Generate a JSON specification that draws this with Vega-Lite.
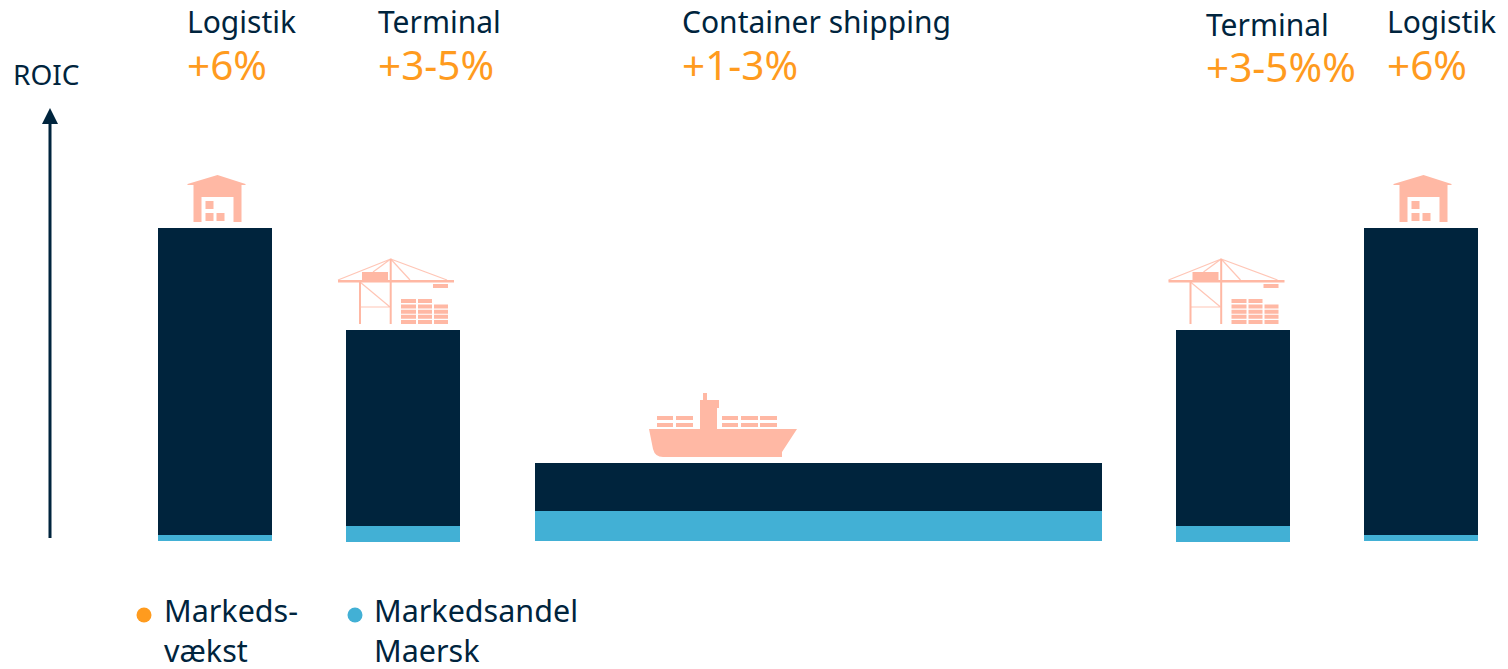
{"$schema":"https://vega.github.io/schema/vega-lite/v6.json","width":1508,"height":669,"padding":0,"autosize":{"type":"fit","contains":"padding"},"background":"white","config":{"view":{"stroke":null},"text":{"font":"Noto Sans"}},"datasets":{"bars":[{"segment":"Logistik","series":"Øvrige","x":158,"x2":272,"y":228,"y2":535},{"segment":"Logistik","series":"Maersk","x":158,"x2":272,"y":535,"y2":541},{"segment":"Terminal","series":"Øvrige","x":346,"x2":460,"y":330,"y2":526},{"segment":"Terminal","series":"Maersk","x":346,"x2":460,"y":526,"y2":542},{"segment":"Container shipping","series":"Øvrige","x":535,"x2":1102,"y":463,"y2":511},{"segment":"Container shipping","series":"Maersk","x":535,"x2":1102,"y":511,"y2":541},{"segment":"Terminal","series":"Øvrige","x":1176,"x2":1290,"y":330,"y2":526},{"segment":"Terminal","series":"Maersk","x":1176,"x2":1290,"y":526,"y2":542},{"segment":"Logistik","series":"Øvrige","x":1364,"x2":1478,"y":228,"y2":535},{"segment":"Logistik","series":"Maersk","x":1364,"x2":1478,"y":535,"y2":541}],"axisTitle":[{"t":"ROIC","x":13,"y":85}],"names":[{"t":"Logistik","x":187,"y":33},{"t":"Terminal","x":378,"y":33},{"t":"Container shipping","x":682,"y":33},{"t":"Terminal","x":1206,"y":36},{"t":"Logistik","x":1387,"y":33}],"legendText":[{"t":"Markeds-","x":164,"y":622},{"t":"vækst","x":164,"y":662},{"t":"Markedsandel","x":374,"y":622},{"t":"Maersk","x":374,"y":662}],"growth":[{"t":"+6%","x":187,"y":80},{"t":"+3-5%","x":378,"y":80},{"t":"+1-3%","x":682,"y":80},{"t":"+3-5%%","x":1206,"y":82},{"t":"+6%","x":1387,"y":80}],"dots":[{"series":"Markedsvækst","x":144,"y":615},{"series":"Maersk","x":355,"y":615}],"warehouse":[{"x":217.5,"y":198},{"x":1423.5,"y":198}],"crane":[{"x":396,"y":291},{"x":1226.5,"y":291}],"ship":[{"x":723,"y":425}],"axisLine":[{"x":50,"y":123,"y2":538}],"axisHead":[{"x":50,"y":116}]},"layer":[{"data":{"name":"bars"},"mark":{"type":"rect"},"encoding":{"x":{"field":"x","type":"quantitative","scale":{"domain":[0,1508],"nice":false,"zero":false},"axis":null},"x2":{"field":"x2"},"y":{"field":"y","type":"quantitative","scale":{"domain":[669,0],"nice":false,"zero":false},"axis":null},"y2":{"field":"y2"},"color":{"field":"series","type":"nominal","scale":{"domain":["Øvrige","Maersk","Markedsvækst"],"range":["#00243D","#42B0D5","#FF9B1E"]},"legend":null}}},{"data":{"name":"axisLine"},"mark":{"type":"rule","color":"#00243D","strokeWidth":3},"encoding":{"x":{"field":"x","type":"quantitative"},"y":{"field":"y","type":"quantitative"},"y2":{"field":"y2"}}},{"data":{"name":"axisHead"},"mark":{"type":"point","filled":true,"opacity":1,"color":"#00243D","size":4,"shape":"M-8,8 L0,-8 L8,8 Z"},"encoding":{"x":{"field":"x","type":"quantitative"},"y":{"field":"y","type":"quantitative"}}},{"data":{"name":"warehouse"},"mark":{"type":"point","filled":true,"opacity":1,"color":"#FFB8A4","size":4,"shape":"M-30,-14 L0,-23 L28,-14 L28,-13 L24,-13 L24,24 L16,24 L16,-1 L-16,-1 L-16,24 L-24,24 L-24,-13 L-30,-13 Z M-12,3 L-4,3 L-4,11 L-12,11 Z M-12,15 L-4,15 L-4,23 L-12,23 Z M-1,15 L7,15 L7,23 L-1,23 Z"},"encoding":{"x":{"field":"x","type":"quantitative"},"y":{"field":"y","type":"quantitative"}}},{"data":{"name":"crane"},"mark":{"type":"point","filled":true,"opacity":1,"color":"#FFB8A4","size":4,"shape":"M-58,-11 L58,-11 L58,-8.5 L-58,-8.5 Z M-34,-19 L-8,-19 L-8,-11 L-34,-11 Z M37,-7 L52,-7 L52,-3 L37,-3 Z M5,8 L20,8 L20,12 L5,12 Z M22,8 L36,8 L36,12 L22,12 Z M5,13.5 L20,13.5 L20,17.5 L5,17.5 Z M22,13.5 L36,13.5 L36,17.5 L22,17.5 Z M38,13.5 L52,13.5 L52,17.5 L38,17.5 Z M5,18.7 L20,18.7 L20,22.7 L5,22.7 Z M22,18.7 L36,18.7 L36,22.7 L22,22.7 Z M38,18.7 L52,18.7 L52,22.7 L38,22.7 Z M5,23.8 L20,23.8 L20,27.8 L5,27.8 Z M22,23.8 L36,23.8 L36,27.8 L22,27.8 Z M38,23.8 L52,23.8 L52,27.8 L38,27.8 Z M5,29 L20,29 L20,33 L5,33 Z M22,29 L36,29 L36,33 L22,33 Z M38,29 L52,29 L52,33 L38,33 Z"},"encoding":{"x":{"field":"x","type":"quantitative"},"y":{"field":"y","type":"quantitative"}}},{"data":{"name":"crane"},"mark":{"type":"point","filled":false,"opacity":1,"stroke":"#FFB8A4","strokeWidth":2,"size":4,"shape":"M-36,-9 L-36,33 M-5.3,-32 L-5.3,33"},"encoding":{"x":{"field":"x","type":"quantitative"},"y":{"field":"y","type":"quantitative"}}},{"data":{"name":"crane"},"mark":{"type":"point","filled":false,"opacity":0.8,"stroke":"#FFB8A4","strokeWidth":1.2,"size":4,"shape":"M-36,16 L-6,16 M-36,-9 L-6,16 M-5.3,-32 L-58,-11 M-5.3,-32 L51,-11 M-5.3,-32 L-23,-19 M-5.3,-32 L14,-11"},"encoding":{"x":{"field":"x","type":"quantitative"},"y":{"field":"y","type":"quantitative"}}},{"data":{"name":"ship"},"mark":{"type":"point","filled":true,"opacity":1,"color":"#FFB8A4","size":4,"shape":"M-74,4 L74,4 L59,27 L59,32 L-60,32 Q-68,32 -70,24 Z M-23,4 L-23,-25 L-20,-25 L-20,-32 L-16,-32 L-16,-25 L-4,-25 L-4,-17 L-6,-17 L-6,4 Z M-66,-9 L-50,-9 L-50,-5 L-66,-5 Z M-47,-9 L-30,-9 L-30,-5 L-47,-5 Z M-66,-2 L-50,-2 L-50,2 L-66,2 Z M-47,-2 L-30,-2 L-30,2 L-47,2 Z M-1,-9 L15,-9 L15,-5 L-1,-5 Z M18,-9 L35,-9 L35,-5 L18,-5 Z M37,-9 L54,-9 L54,-5 L37,-5 Z M-1,-2 L15,-2 L15,2 L-1,2 Z M18,-2 L35,-2 L35,2 L18,2 Z M37,-2 L54,-2 L54,2 L37,2 Z"},"encoding":{"x":{"field":"x","type":"quantitative"},"y":{"field":"y","type":"quantitative"}}},{"data":{"name":"dots"},"mark":{"type":"point","filled":true,"opacity":1,"shape":"circle","size":225},"encoding":{"x":{"field":"x","type":"quantitative"},"y":{"field":"y","type":"quantitative"},"color":{"field":"series","type":"nominal","legend":null}}},{"data":{"name":"axisTitle"},"mark":{"type":"text","align":"left","baseline":"alphabetic","font":"Noto Sans","fontSize":28,"color":"#00243D"},"encoding":{"x":{"field":"x","type":"quantitative"},"y":{"field":"y","type":"quantitative"},"text":{"field":"t"}}},{"data":{"name":"names"},"mark":{"type":"text","align":"left","baseline":"alphabetic","font":"Noto Sans","fontSize":30,"color":"#00243D"},"encoding":{"x":{"field":"x","type":"quantitative"},"y":{"field":"y","type":"quantitative"},"text":{"field":"t"}}},{"data":{"name":"legendText"},"mark":{"type":"text","align":"left","baseline":"alphabetic","font":"Noto Sans","fontSize":30.5,"color":"#00243D"},"encoding":{"x":{"field":"x","type":"quantitative"},"y":{"field":"y","type":"quantitative"},"text":{"field":"t"}}},{"data":{"name":"growth"},"mark":{"type":"text","align":"left","baseline":"alphabetic","font":"Noto Sans","fontSize":40.5,"color":"#FF9B1E"},"encoding":{"x":{"field":"x","type":"quantitative"},"y":{"field":"y","type":"quantitative"},"text":{"field":"t"}}}]}
